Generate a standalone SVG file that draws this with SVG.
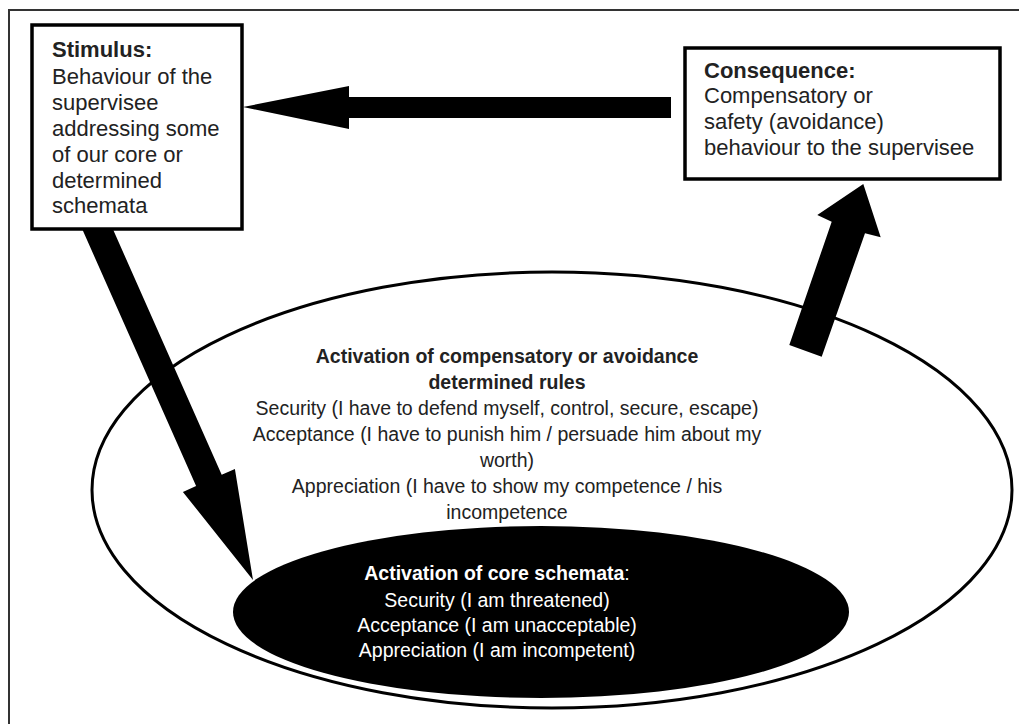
<svg xmlns="http://www.w3.org/2000/svg" width="1019" height="724" viewBox="0 0 1019 724">
<style>
.t{font-family:"Liberation Sans",Arial,sans-serif;fill:#222}
.box{font-size:22px}
.ell{font-size:19.5px;text-anchor:middle}
.b{font-weight:bold}
.w{fill:#fff}
.frame{fill:#fff;stroke:#000;stroke-width:3.5}
.arrow{fill:#000;stroke:none}
</style>
<rect width="1019" height="724" fill="#fff"/>
<path d="M9,724 V10 H1019" fill="none" stroke="#333" stroke-width="2"/>
<g id="outer-ellipse">
<ellipse cx="552" cy="490" rx="460" ry="218" fill="#fff" stroke="#000" stroke-width="3"/>
<text class="t ell" x="507"><tspan class="b" x="507" y="363">Activation of compensatory or avoidance</tspan><tspan class="b" x="507" y="389">determined rules</tspan><tspan x="507" y="415">Security (I have to defend myself, control, secure, escape)</tspan><tspan x="507" y="441">Acceptance (I have to punish him / persuade him about my</tspan><tspan x="507" y="467">worth)</tspan><tspan x="507" y="493">Appreciation (I have to show my competence / his</tspan><tspan x="507" y="519">incompetence</tspan></text>
</g>
<g id="inner-ellipse">
<ellipse cx="541" cy="612" rx="308" ry="86" fill="#000"/>
<text class="t ell w"><tspan class="b" x="497" y="580">Activation of core schemata</tspan><tspan>:</tspan><tspan x="497" y="607">Security (I am threatened)</tspan><tspan x="497" y="632">Acceptance (I am unacceptable)</tspan><tspan x="497" y="657">Appreciation (I am incompetent)</tspan></text>
</g>
<g id="connectors">
<polygon class="arrow" points="671,97 349,97 349,86 243,107 349,129 349,118 671,118"/>
<polygon class="arrow" points="78.5,220.7 104.1,209.3 221.7,474.7 234.9,468.9 253,580 182.9,491.9 196.1,486.1"/>
<polygon class="arrow" points="789.3,345 831.7,221.7 817.3,215 863.3,184 880.7,237.3 865,233.3 821.7,356.7"/>
</g>
<g id="stimulus">
<rect class="frame" x="32" y="25" width="210" height="204"/>
<text class="t box"><tspan class="b" x="52" y="57">Stimulus:</tspan><tspan x="52" y="84">Behaviour of the</tspan><tspan x="52" y="110">supervisee</tspan><tspan x="52" y="136">addressing some</tspan><tspan x="52" y="162">of our core or</tspan><tspan x="52" y="188">determined</tspan><tspan x="52" y="213">schemata</tspan></text>
</g>
<g id="consequence">
<rect class="frame" x="685" y="48" width="315" height="131"/>
<text class="t box"><tspan class="b" x="704" y="78">Consequence:</tspan><tspan x="704" y="103">Compensatory or</tspan><tspan x="704" y="129">safety (avoidance)</tspan><tspan x="704" y="155">behaviour to the supervisee</tspan></text>
</g>
</svg>
